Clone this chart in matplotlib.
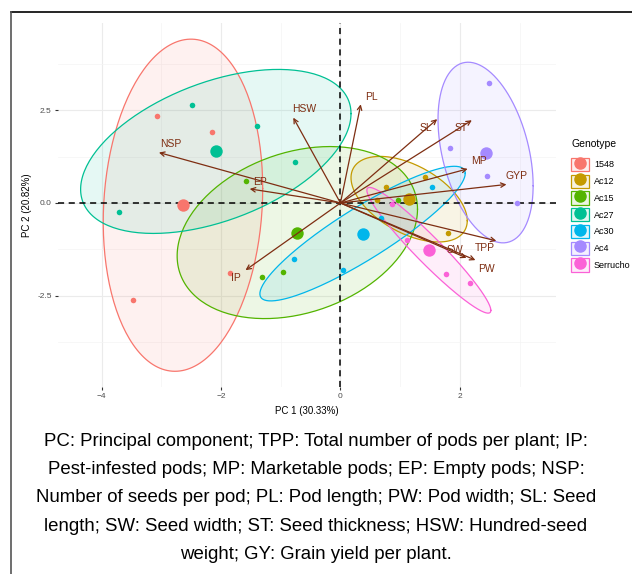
import matplotlib
matplotlib.use("Agg")
import matplotlib.pyplot as plt
from matplotlib.patches import Rectangle
from matplotlib.lines import Line2D
from matplotlib.legend_handler import HandlerTuple
import numpy as np

plt.rcParams['font.family'] = ['Liberation Sans', 'DejaVu Sans']

# genotype scores on PC1 / PC2 (4 observations each)
genotypes = ['1548', 'Ac12', 'Ac15', 'Ac27', 'Ac30', 'Ac4', 'Serrucho']
colors = ['#F8766D', '#C49A00', '#53B400', '#00C094', '#00B6EB', '#A58AFF', '#FB61D7']
pc1 = {
    '1548':     [-3.08, -2.15, -1.85, -3.47],
    'Ac12':     [0.76, 1.42, 0.62, 1.80],
    'Ac15':     [-1.58, -1.31, -0.96, 0.96],
    'Ac27':     [-2.48, -1.40, -0.76, -3.71],
    'Ac30':     [-0.78, 0.04, 0.68, 1.54],
    'Ac4':      [2.48, 1.84, 2.45, 2.95],
    'Serrucho': [0.87, 1.12, 1.76, 2.17],
}
pc2 = {
    '1548':     [2.35, 1.92, -1.89, -2.62],
    'Ac12':     [0.44, 0.70, 0.08, -0.81],
    'Ac15':     [0.59, -1.99, -1.87, 0.08],
    'Ac27':     [2.63, 2.08, 1.10, -0.25],
    'Ac30':     [-1.52, -1.81, -0.41, 0.44],
    'Ac4':      [3.24, 1.48, 0.72, 0.00],
    'Serrucho': [-0.03, -1.00, -1.91, -2.16],
}

# variable loadings (arrow tips) and where their labels sit
variables = ['PL', 'HSW', 'NSP', 'EP', 'IP', 'SL', 'ST', 'MP', 'GYP', 'TPP', 'PW', 'SW']
load_x = [0.34, -0.79, -3.04, -1.52, -1.59, 1.62, 2.20, 2.13, 2.78, 2.61, 2.26, 2.11]
load_y = [2.66, 2.30, 1.36, 0.38, -1.81, 2.26, 2.23, 0.92, 0.50, -1.02, -1.54, -1.48]
label_x = [0.52, -0.61, -2.85, -1.35, -1.75, 1.43, 2.02, 2.32, 2.95, 2.42, 2.45, 1.92]
label_y = [2.87, 2.53, 1.59, 0.57, -2.01, 2.03, 2.01, 1.14, 0.73, -1.22, -1.78, -1.28]

caption = ["PC: Principal component; TPP: Total number of pods per plant; IP:",
           "Pest-infested pods; MP: Marketable pods; EP: Empty pods; NSP:",
           "Number of seeds per pod; PL: Pod length; PW: Pod width; SL: Seed",
           "length; SW: Seed width; ST: Seed thickness; HSW: Hundred-seed",
           "weight; GY: Grain yield per plant."]

ell_scale = 1.75
arrow_col = '#7E2E12'

fig = plt.figure(figsize=(6.32, 5.74), dpi=100)
ax = fig.add_axes([0.0918, 0.3258, 0.788, 0.634])

t = np.linspace(0, 2 * np.pi, 200)
circle = np.column_stack([np.cos(t), np.sin(t)])
for g, c in zip(genotypes, colors):
    xy = np.column_stack([pc1[g], pc2[g]])
    mu = xy.mean(axis=0)
    S = np.cov(xy.T)
    pts = circle @ np.linalg.cholesky(S).T * ell_scale + mu
    ax.fill(pts[:, 0], pts[:, 1], color=c, alpha=0.1, lw=0, zorder=1)
    ax.plot(pts[:, 0], pts[:, 1], color=c, lw=0.9, zorder=2)

ax.axhline(0, color='black', ls=(0, (4, 3)), lw=1.1, zorder=3)
ax.axvline(0, color='black', ls=(0, (4, 3)), lw=1.1, zorder=3)

for g, c in zip(genotypes, colors):
    ax.scatter(pc1[g], pc2[g], s=16, color=c, lw=0, zorder=4)
    ax.scatter(np.mean(pc1[g]), np.mean(pc2[g]), s=80, color=c, lw=0, zorder=4)

for v, lx, ly, tx, ty in zip(variables, load_x, load_y, label_x, label_y):
    ax.annotate('', xy=(lx, ly), xytext=(0, 0),
                arrowprops=dict(arrowstyle='->', color=arrow_col, lw=0.9,
                                shrinkA=0, shrinkB=0, mutation_scale=8), zorder=5)
    ax.text(tx, ty, v, color=arrow_col, fontsize=7.5, ha='center', va='center', zorder=6)

ax.set_xlim(-4.73, 3.61)
ax.set_ylim(-4.96, 4.85)
ax.set_xticks([-4, -2, 0, 2])
ax.set_yticks([-2.5, 0.0, 2.5])
ax.set_yticklabels(['-2.5', '0.0', '2.5'])
ax.set_xticks([-3, -1, 1, 3], minor=True)
ax.set_yticks([-3.75, -1.25, 1.25, 3.75], minor=True)
ax.grid(which='major', color='#EBEBEB', lw=0.8)
ax.grid(which='minor', color='#F4F4F4', lw=0.5)
ax.set_axisbelow(True)
for s in ax.spines.values():
    s.set_visible(False)
ax.tick_params(which='major', length=2.5, width=0.8, color='#333333',
               labelsize=6, labelcolor='#4D4D4D', pad=2)
ax.tick_params(which='minor', length=0)
ax.set_xlabel('PC 1 (30.33%)', fontsize=7, labelpad=4)
ax.set_ylabel('PC 2 (20.82%)', fontsize=7, labelpad=4)

handles = []
for c in colors:
    box = Rectangle((0, 0), 1, 1, facecolor=matplotlib.colors.to_rgba(c, 0.12), edgecolor=c, lw=0.9)
    dot = Line2D([], [], marker='o', ls='', color=c, markersize=8)
    handles.append((box, dot))
leg = fig.legend(handles, genotypes, handler_map={tuple: HandlerTuple(ndivide=1, pad=0)},
                 loc='upper left', bbox_to_anchor=(0.897, 0.765), frameon=False,
                 title='Genotype', fontsize=6.5, title_fontsize=7.5,
                 handlelength=1.9, handleheight=1.9, handletextpad=0.6,
                 labelspacing=0.38, borderpad=0)
leg._legend_box.align = 'left'
leg._legend_box.sep = 6

for i, line in enumerate(caption):
    fig.text(0.5, 1 - (441 + 28.4 * i) / 574, line, ha='center', va='center', fontsize=13.4)

# figure frame (top and left edges)
fig.add_artist(Line2D([11 / 632, 1], [1 - 12 / 574] * 2, color='black', lw=1.2))
fig.add_artist(Line2D([11 / 632] * 2, [0, 1 - 12 / 574], color='#555555', lw=1.2))

fig.savefig('out.png', dpi=100)
